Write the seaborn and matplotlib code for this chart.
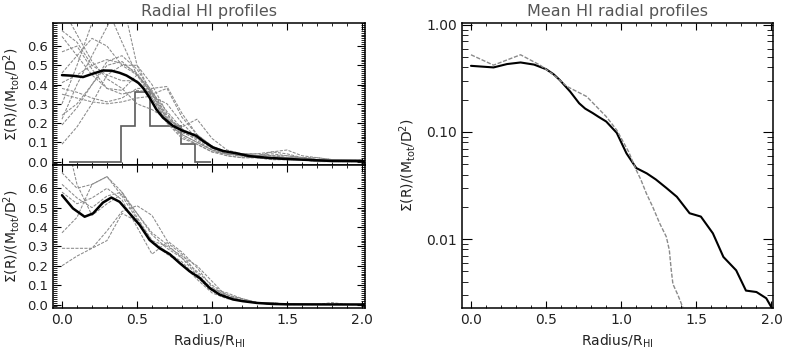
import numpy as np
import pandas as pd
import matplotlib
matplotlib.use("Agg")
import matplotlib.pyplot as plt
import matplotlib.ticker as mticker
import seaborn as sns

# ---- data ----
radius = [0.0, 0.1, 0.2, 0.3, 0.4, 0.5, 0.6, 0.7, 0.8, 0.9, 1.0,
          1.1, 1.2, 1.3, 1.4, 1.5, 1.6, 1.7, 1.8, 1.9, 2.0]

top_profiles = [
    [0.09, 0.18, 0.30, 0.45, 0.50, 0.50, 0.40, 0.25, 0.15, 0.12, 0.08, 0.04, 0.03, 0.02, 0.02, 0.01, 0.01, 0.0, 0.0, 0.0, 0.0],
    [0.19, 0.28, 0.40, 0.50, 0.52, 0.45, 0.36, 0.22, 0.14, 0.10, 0.06, 0.03, 0.02, 0.02, 0.01, 0.01, 0.01, 0.0, 0.0, 0.0, 0.0],
    [0.24, 0.30, 0.40, 0.52, 0.55, 0.48, 0.36, 0.26, 0.17, 0.12, 0.07, 0.04, 0.03, 0.03, 0.04, 0.03, 0.02, 0.01, 0.01, 0.0, 0.0],
    [0.35, 0.33, 0.31, 0.30, 0.31, 0.33, 0.34, 0.30, 0.20, 0.12, 0.07, 0.05, 0.04, 0.03, 0.03, 0.02, 0.02, 0.01, 0.01, 0.01, 0.0],
    [0.38, 0.36, 0.33, 0.31, 0.33, 0.38, 0.38, 0.39, 0.25, 0.14, 0.08, 0.05, 0.04, 0.04, 0.05, 0.06, 0.03, 0.02, 0.01, 0.01, 0.01],
    [0.41, 0.45, 0.50, 0.53, 0.51, 0.46, 0.35, 0.22, 0.18, 0.22, 0.12, 0.06, 0.04, 0.03, 0.02, 0.02, 0.01, 0.01, 0.01, 0.0, 0.0],
    [0.46, 0.55, 0.64, 0.60, 0.50, 0.45, 0.35, 0.20, 0.12, 0.09, 0.05, 0.03, 0.02, 0.02, 0.01, 0.01, 0.01, 0.0, 0.0, 0.0, 0.0],
    [0.57, 0.60, 0.48, 0.38, 0.35, 0.37, 0.36, 0.24, 0.16, 0.14, 0.08, 0.05, 0.04, 0.04, 0.03, 0.03, 0.02, 0.02, 0.01, 0.01, 0.01],
    [0.65, 0.55, 0.45, 0.38, 0.37, 0.45, 0.37, 0.23, 0.16, 0.11, 0.06, 0.04, 0.03, 0.02, 0.02, 0.02, 0.01, 0.01, 0.0, 0.0, 0.0],
    [0.68, 0.62, 0.50, 0.45, 0.42, 0.42, 0.33, 0.20, 0.14, 0.10, 0.06, 0.04, 0.03, 0.02, 0.02, 0.01, 0.01, 0.01, 0.0, 0.0, 0.0],
    [0.80, 0.66, 0.52, 0.43, 0.38, 0.30, 0.27, 0.22, 0.17, 0.13, 0.07, 0.05, 0.04, 0.03, 0.03, 0.02, 0.02, 0.01, 0.01, 0.01, 0.0],
    [0.30, 0.50, 0.72, 0.80, 0.62, 0.45, 0.33, 0.21, 0.13, 0.09, 0.05, 0.04, 0.03, 0.02, 0.02, 0.01, 0.01, 0.0, 0.0, 0.0, 0.0],
    [0.22, 0.40, 0.55, 0.70, 0.85, 0.50, 0.35, 0.38, 0.23, 0.14, 0.07, 0.04, 0.04, 0.03, 0.05, 0.04, 0.02, 0.01, 0.01, 0.0, 0.0],
]

bottom_profiles = [
    [0.68, 0.60, 0.62, 0.66, 0.58, 0.47, 0.36, 0.29, 0.24, 0.17, 0.10, 0.05, 0.03, 0.01, 0.01, 0.0, 0.0, 0.0, 0.0, 0.0, 0.0],
    [0.37, 0.45, 0.62, 0.66, 0.56, 0.44, 0.33, 0.27, 0.22, 0.14, 0.07, 0.04, 0.02, 0.01, 0.0, 0.0, 0.0, 0.0, 0.0, 0.0, 0.0],
    [0.29, 0.29, 0.29, 0.33, 0.47, 0.43, 0.32, 0.26, 0.21, 0.13, 0.06, 0.03, 0.02, 0.01, 0.0, 0.0, 0.0, 0.0, 0.0, 0.0, 0.0],
    [0.20, 0.25, 0.29, 0.38, 0.48, 0.51, 0.46, 0.33, 0.27, 0.19, 0.09, 0.04, 0.02, 0.01, 0.0, 0.0, 0.0, 0.0, 0.0, 0.0, 0.0],
    [0.95, 0.62, 0.46, 0.52, 0.57, 0.47, 0.37, 0.31, 0.24, 0.15, 0.08, 0.06, 0.03, 0.01, 0.01, 0.0, 0.0, 0.0, 0.01, 0.0, 0.0],
    [0.58, 0.52, 0.55, 0.60, 0.54, 0.40, 0.26, 0.32, 0.26, 0.16, 0.08, 0.05, 0.02, 0.01, 0.0, 0.0, 0.0, 0.0, 0.0, 0.0, 0.0],
    [0.62, 0.55, 0.50, 0.56, 0.58, 0.45, 0.33, 0.30, 0.25, 0.20, 0.12, 0.04, 0.03, 0.01, 0.01, 0.0, 0.0, 0.0, 0.0, 0.0, 0.0],
]

top_mean_r = [0.0, 0.07, 0.14, 0.2, 0.273, 0.33, 0.384, 0.43, 0.473, 0.51, 0.54, 0.584, 0.629, 0.673,
              0.74, 0.807, 0.85, 0.896, 0.94, 1.007, 1.073, 1.162, 1.25, 1.36, 1.48, 1.65, 1.8, 2.02]
top_mean = [0.449, 0.446, 0.439, 0.455, 0.473, 0.472, 0.461, 0.447, 0.427, 0.408, 0.383, 0.332,
            0.271, 0.228, 0.185, 0.159, 0.147, 0.133, 0.107, 0.073, 0.055, 0.043, 0.028, 0.02,
            0.014, 0.008, 0.003, 0.002]

bottom_mean_r = [0.0, 0.073, 0.151, 0.207, 0.273, 0.329, 0.384, 0.451, 0.518, 0.584, 0.651, 0.718,
                 0.784, 0.851, 0.918, 0.984, 1.051, 1.14, 1.207, 1.3, 1.4, 1.5, 2.02]
bottom_mean = [0.564, 0.496, 0.453, 0.47, 0.526, 0.552, 0.53, 0.47, 0.41, 0.333, 0.29, 0.26,
               0.214, 0.171, 0.137, 0.085, 0.051, 0.026, 0.017, 0.008, 0.003, 0.001, 0.0]

hist_edges = [0.05, 0.395, 0.49, 0.59, 0.79, 0.885, 0.99]
hist_vals = [0.0, 0.185, 0.36, 0.185, 0.093, 0.0]

log_black_r = [0.0, 0.15, 0.24, 0.33, 0.42, 0.5, 0.55, 0.59, 0.66, 0.72, 0.76, 0.81, 0.85, 0.9, 0.97,
               1.035, 1.1, 1.17, 1.23, 1.3, 1.37, 1.455, 1.53, 1.61, 1.68, 1.765, 1.83, 1.9,
               1.965, 2.0]
log_black = [0.414, 0.40, 0.43, 0.445, 0.425, 0.385, 0.345, 0.306, 0.238, 0.185, 0.165, 0.15,
             0.138, 0.125, 0.098, 0.063, 0.046, 0.041, 0.036, 0.030, 0.0248, 0.0174, 0.0162,
             0.0113, 0.0068, 0.0051, 0.0033, 0.0032, 0.0028, 0.0023]

log_gray_r = [0.0, 0.15, 0.24, 0.33, 0.46, 0.55, 0.64, 0.77, 0.9, 0.97, 1.05, 1.1, 1.13, 1.167,
              1.21, 1.256, 1.30, 1.32, 1.333, 1.344, 1.377, 1.41]
log_gray = [0.525, 0.42, 0.47, 0.525, 0.42, 0.341, 0.265, 0.214, 0.139, 0.104, 0.065, 0.044,
            0.036, 0.0267, 0.0199, 0.014, 0.0105, 0.0079, 0.0051, 0.0038, 0.003, 0.0023]


def profiles_df(profiles):
    rows = []
    for i, prof in enumerate(profiles):
        for r, v in zip(radius, prof):
            rows.append({"r": r, "sigma": v, "profile": i})
    return pd.DataFrame(rows)


sns.set_style("ticks")
plt.rcParams["font.family"] = ["DejaVu Sans"]
plt.rcParams["mathtext.default"] = "regular"

TXT = "#222222"
GRAY = "#8a8a8a"
ylabel = r"$\Sigma$(R)/(M$_{tot}$/D$^{2}$)"
xlabel = r"Radius/R$_{HI}$"

fig = plt.figure(figsize=(7.85, 3.53), dpi=100)
ax_top = fig.add_axes([0.0675, 0.5326, 0.3975, 0.4023])
ax_bot = fig.add_axes([0.0675, 0.1275, 0.3975, 0.4051])
ax_log = fig.add_axes([0.5885, 0.1275, 0.3962, 0.8074])


def style_axis(ax):
    for s in ax.spines.values():
        s.set_linewidth(1.1)
        s.set_color("black")
    ax.tick_params(which="both", direction="in", top=True, right=True, colors="black",
                   labelcolor=TXT)
    ax.tick_params(which="major", length=5, width=0.8, labelsize=10)
    ax.tick_params(which="minor", length=2.5, width=0.6)
    ax.xaxis.set_major_locator(mticker.MultipleLocator(0.5))
    ax.xaxis.set_minor_locator(mticker.MultipleLocator(0.1))
    ax.xaxis.set_major_formatter(mticker.FormatStrFormatter("%.1f"))


for ax, profs, mr, mv in [(ax_top, top_profiles, top_mean_r, top_mean),
                          (ax_bot, bottom_profiles, bottom_mean_r, bottom_mean)]:
    sns.lineplot(data=profiles_df(profs), x="r", y="sigma", units="profile", estimator=None,
                 color=GRAY, lw=0.75, linestyle=(0, (3, 1.3)), ax=ax)
    sns.lineplot(x=mr, y=mv, color="black", lw=1.8, ax=ax)
    style_axis(ax)
    ax.set_xlim(-0.06, 2.02)
    ax.set_ylim(-0.018, 0.72)
    ax.yaxis.set_major_locator(mticker.FixedLocator([0.0, 0.1, 0.2, 0.3, 0.4, 0.5, 0.6]))
    ax.yaxis.set_minor_locator(mticker.MultipleLocator(0.01))
    ax.yaxis.set_major_formatter(mticker.FormatStrFormatter("%.1f"))
    ax.tick_params(axis="y", which="major", length=6, labelsize=9.5)
    ax.tick_params(axis="y", which="minor", length=3)
    ax.set_ylabel(ylabel, fontsize=10, color=TXT, labelpad=4)
    ax.set_xlabel("")

ax_top.stairs(hist_vals, hist_edges, color="#5a5a5a", lw=1.2)
ax_top.tick_params(axis="x", labelbottom=False)
ax_top.set_title("Radial HI profiles", fontsize=11.5, color="#555555", pad=5)
ax_bot.set_xlabel(xlabel, fontsize=10, color=TXT, labelpad=4)

# right panel: mean profiles on log scale
sns.lineplot(x=log_black_r, y=log_black, color="black", lw=1.5, ax=ax_log)
sns.lineplot(x=log_gray_r, y=log_gray, color=GRAY, lw=1.0, linestyle=(0, (3, 1.2)), ax=ax_log)
ax_log.set_yscale("log")
style_axis(ax_log)
ax_log.set_xlim(-0.06, 2.01)
ax_log.set_ylim(0.00227, 1.04)
ax_log.yaxis.set_major_locator(mticker.FixedLocator([0.01, 0.1, 1.0]))
ax_log.yaxis.set_minor_locator(mticker.LogLocator(base=10, subs=np.arange(2, 10)))
ax_log.yaxis.set_major_formatter(mticker.FormatStrFormatter("%.2f"))
ax_log.yaxis.set_minor_formatter(mticker.NullFormatter())
ax_log.tick_params(axis="y", which="major", length=7)
ax_log.tick_params(axis="y", which="minor", length=4)
ax_log.set_ylabel(ylabel, fontsize=10, color=TXT, labelpad=6)
ax_log.set_xlabel(xlabel, fontsize=10, color=TXT, labelpad=4)
ax_log.set_title("Mean HI radial profiles", fontsize=11.5, color="#555555", pad=5)

fig.savefig("out.png", dpi=100)
